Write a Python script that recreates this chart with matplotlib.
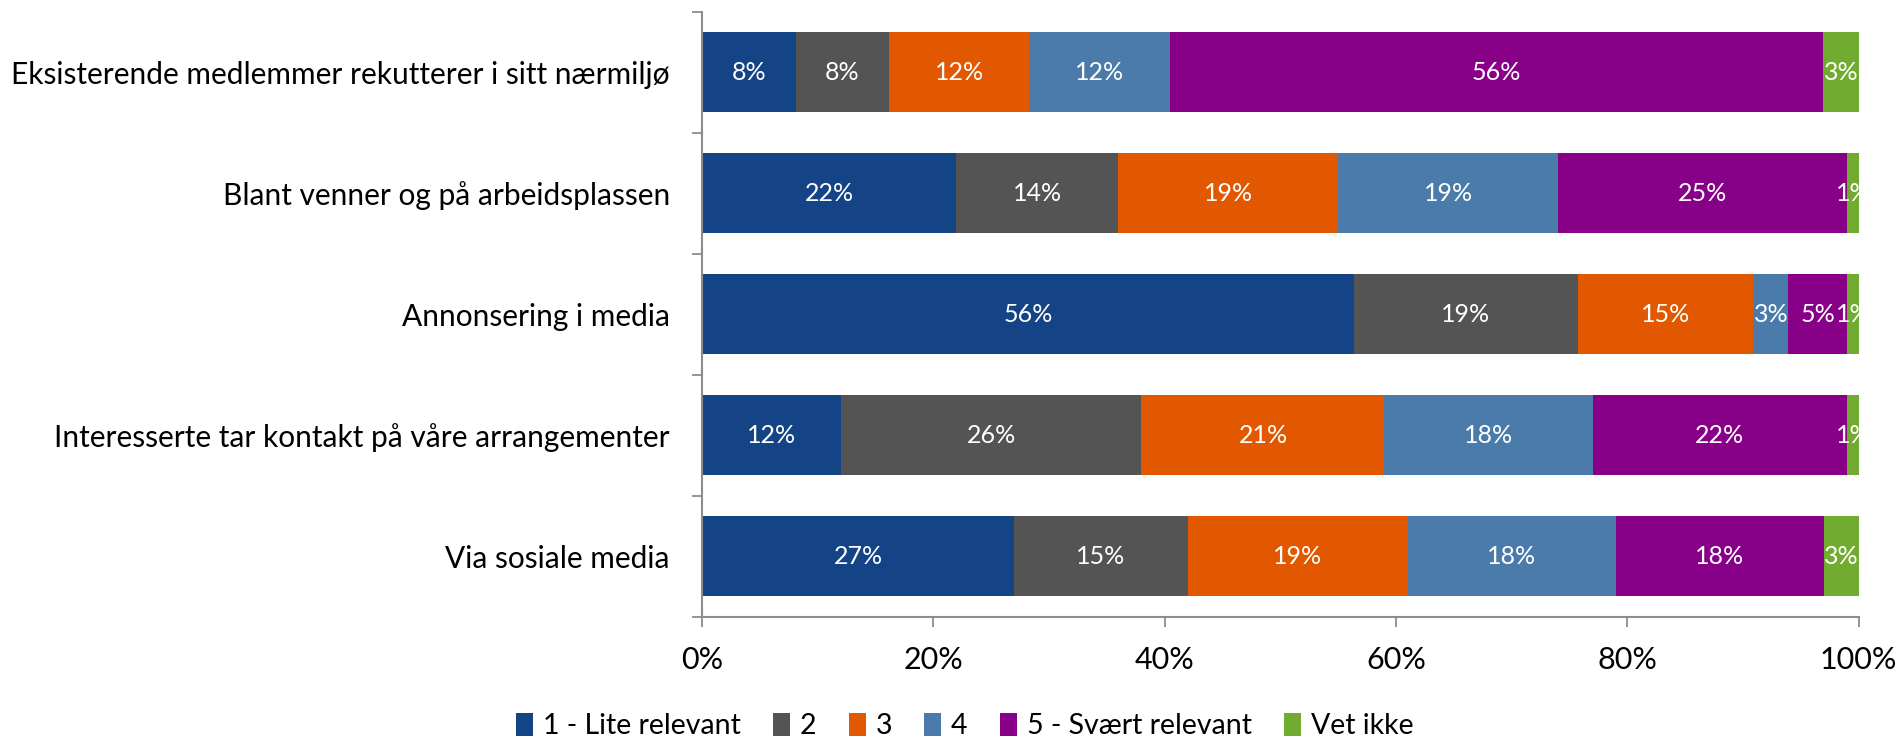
import matplotlib
matplotlib.use("Agg")
import matplotlib.pyplot as plt
from matplotlib.patches import Patch
import numpy as np

categories = [
    "Eksisterende medlemmer rekutterer i sitt nærmiljø",
    "Blant venner og på arbeidsplassen",
    "Annonsering i media",
    "Interesserte tar kontakt på våre arrangementer",
    "Via sosiale media",
]
series_names = ["1 - Lite relevant", "2", "3", "4", "5 - Svært relevant", "Vet ikke"]

# share (%) per series, one value per category (top to bottom)
lite_relevant = [8.1, 22.0, 56.4, 12.0, 27.0]
score_2 = [8.1, 14.0, 19.3, 26.0, 15.0]
score_3 = [12.1, 19.0, 15.2, 21.0, 19.0]
score_4 = [12.2, 19.0, 3.0, 18.0, 18.0]
svaert_relevant = [56.4, 25.0, 5.1, 22.0, 18.0]
vet_ikke = [3.1, 1.0, 1.0, 1.0, 3.0]

colors = ["#144486", "#545454", "#E25800", "#4B7BAA", "#890088", "#71AC30"]

plt.rcParams['font.family'] = ['Lato', 'DejaVu Sans']

fig = plt.figure(figsize=(18.99, 7.39), dpi=100)
ax = fig.add_axes([0.3696, 0.1655, 0.9788 - 0.3696, 0.9842 - 0.1655])

series = [lite_relevant, score_2, score_3, score_4, svaert_relevant, vet_ikke]
y = np.arange(len(categories))
left = np.zeros(len(categories))
for vals, col in zip(series, colors):
    vals = np.array(vals)
    ax.barh(y, vals, left=left, height=0.665, color=col, linewidth=0)
    for yi, l, v in zip(y, left, vals):
        ax.text(l + v / 2, yi, f"{v:.0f}%", ha="center", va="center",
                color="white", fontsize=18, clip_on=True)
    left += vals

ax.set_xlim(0, 100)
ax.set_ylim(len(categories) - 0.5, -0.5)

axis_col = "#8C8C8C"
for s in ["top", "right"]:
    ax.spines[s].set_visible(False)
for s in ["left", "bottom"]:
    ax.spines[s].set_color(axis_col)
    ax.spines[s].set_linewidth(1.5)

ax.set_xticks(np.arange(0, 101, 20))
ax.set_xticklabels([f"{t}%" for t in range(0, 101, 20)], fontsize=22)
ax.tick_params(axis="x", length=7, width=1.3, color=axis_col, pad=14)

ax.set_yticks(y)
ax.set_yticklabels(categories, fontsize=21.5)
ax.tick_params(axis="y", which="major", length=0, pad=23)
ax.set_yticks(np.arange(-0.5, len(categories)), minor=True)
ax.tick_params(axis="y", which="minor", length=7, width=1.3, color=axis_col)

handles = [Patch(facecolor=c, edgecolor="none") for c in colors]
fig.legend(handles, series_names, loc="center", bbox_to_anchor=(0.508, 1 - 726 / 739),
           ncol=6, frameon=False, fontsize=20.5, handlelength=0.6, handleheight=0.9,
           handletextpad=0.35, columnspacing=1.12)

fig.savefig("out.png", dpi=100)
